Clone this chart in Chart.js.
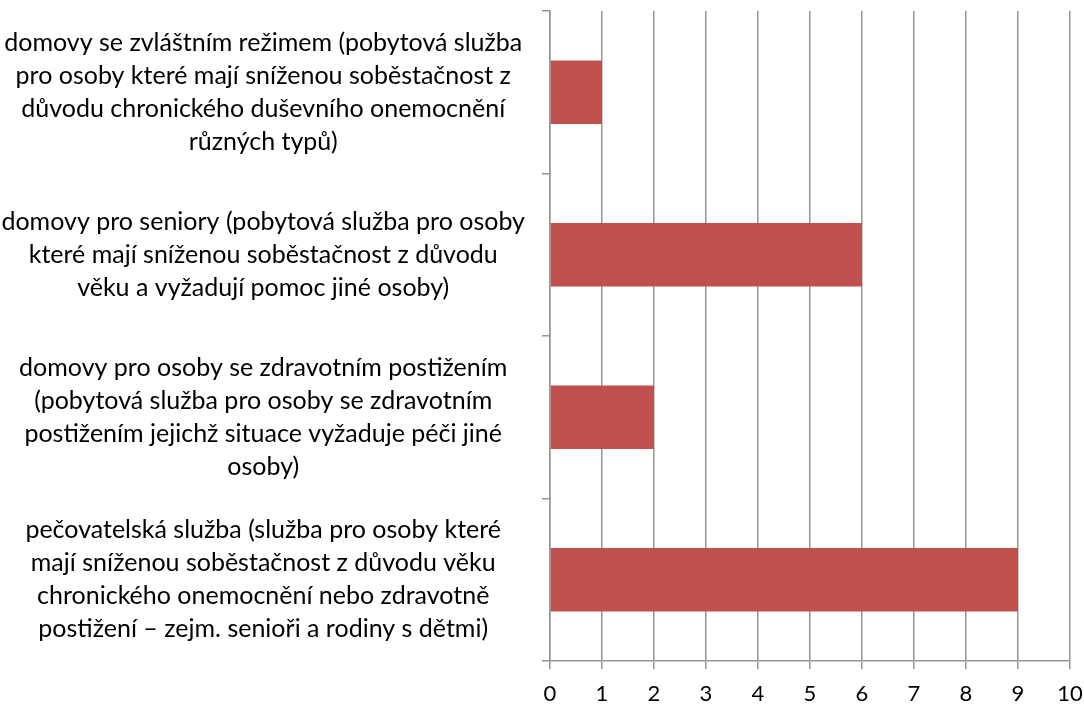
<!DOCTYPE html>
<html>
<head>
<meta charset="utf-8">
<script src="https://cdn.jsdelivr.net/npm/chart.js@4"></script>
<style>
  html, body { margin: 0; padding: 0; background: #fff; }
  #box { width: 1084px; height: 706px; }
</style>
</head>
<body>
<div id="box"><canvas id="grafico"></canvas></div>
<script>
// kategorie (víceřádkové popisky) a hodnoty
const kategorie = [
    ['domovy se zvláštním režimem (pobytová služba', 'pro osoby které mají sníženou soběstačnost z', 'důvodu chronického duševního onemocnění', 'různých typů)'],
    ['domovy pro seniory (pobytová služba pro osoby', 'které mají sníženou soběstačnost z důvodu', 'věku a vyžadují pomoc jiné osoby)'],
    ['domovy pro osoby se zdravotním postižením', '(pobytová služba pro osoby se zdravotním', 'postižením jejichž situace vyžaduje péči jiné', 'osoby)'],
    ['pečovatelská služba (služba pro osoby které', 'mají sníženou soběstačnost z důvodu věku', 'chronického onemocnění nebo zdravotně', 'postižení – zejm. senioři a rodiny s dětmi)']
];
const hodnoty = [1, 6, 2, 9];
const osaX = { min: 0, max: 10, krok: 1 };

const seda = '#969696';

new Chart(document.getElementById('grafico'), {
    type: 'bar',
    data: {
        labels: kategorie,
        datasets: [{
            data: hodnoty,
            backgroundColor: '#C0504D',
            borderWidth: 0,
            barPercentage: 0.39,
            categoryPercentage: 1
        }]
    },
    options: {
        indexAxis: 'y',
        responsive: true,
        maintainAspectRatio: false,
        animation: false,
        layout: { padding: { top: 11, right: 0, bottom: 1, left: 0 } },
        plugins: { legend: { display: false }, tooltip: { enabled: false } },
        scales: {
            x: {
                min: osaX.min,
                max: osaX.max,
                afterFit: (scale) => {
                    scale.height = 44;
                    scale.paddingRight = 14;
                },
                ticks: {
                    stepSize: osaX.krok,
                    color: '#000',
                    padding: 14,
                    maxRotation: 0,
                    font: { family: 'Lato', size: 22, lineHeight: 1 }
                },
                grid: { color: seda, lineWidth: 1.5, tickLength: 8 },
                border: { color: seda, width: 1.5 }
            },
            y: {
                // popisky jsou uprostřed pásů, takže okraj navíc nepotřebujeme
                afterFit: (scale) => {
                    scale.paddingTop = 0;
                    scale.paddingBottom = 0;
                    scale.width = 550;
                },
                ticks: {
                    color: '#000',
                    crossAlign: 'center',
                    padding: 17,
                    font: { family: 'Lato', size: 25, lineHeight: '33px' }
                },
                grid: { drawOnChartArea: false, color: seda, lineWidth: 1.5, tickLength: 8 },
                border: { color: seda, width: 1.5 }
            }
        }
    }
});
</script>
</body>
</html>
